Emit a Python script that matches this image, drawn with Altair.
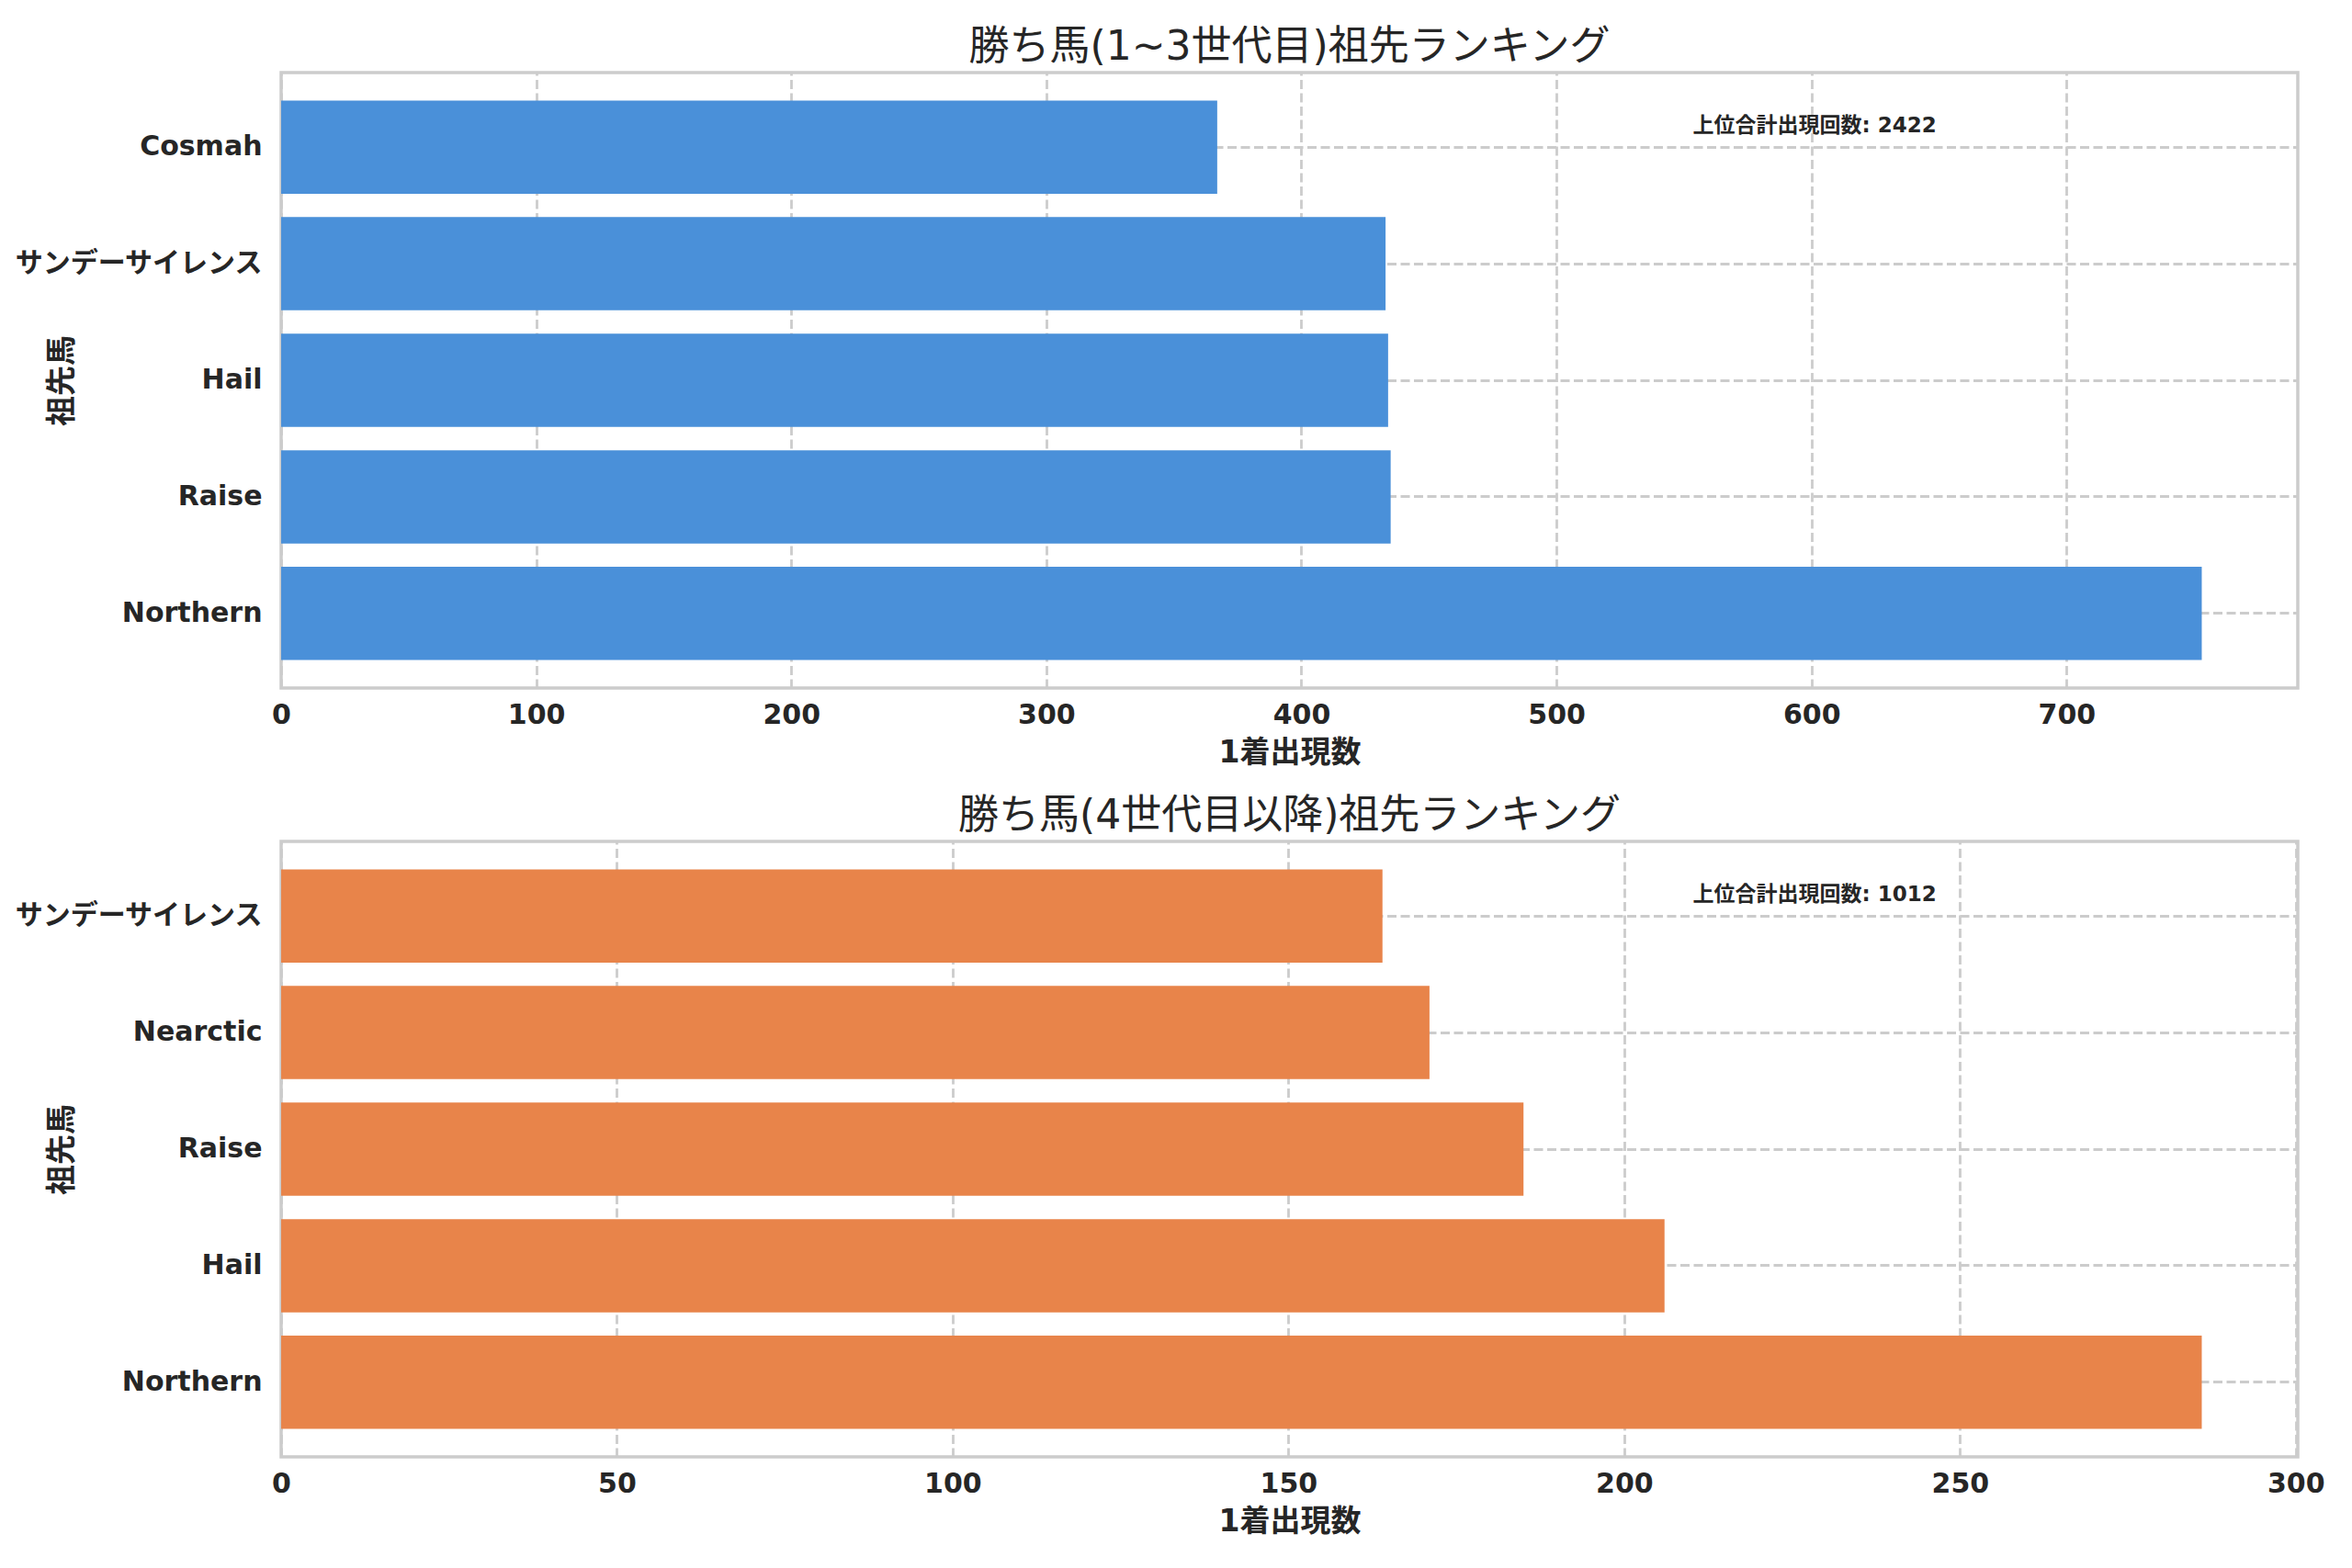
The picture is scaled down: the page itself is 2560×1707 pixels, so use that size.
import altair as alt
import pandas as pd

# ---- data ----
top_names = ["Northern", "Raise", "Hail", "サンデーサイレンス", "Cosmah"]
top_values = [753, 435, 434, 433, 367]
bottom_names = ["Northern", "Hail", "Raise", "Nearctic", "サンデーサイレンス"]
bottom_values = [286, 206, 185, 171, 164]

top_title = "勝ち馬(1~3世代目)祖先ランキング"
bottom_title = "勝ち馬(4世代目以降)祖先ランキング"
x_label = "1着出現数"
y_label = "祖先馬"
note_prefix = "上位合計出現回数"

top_ticks = [0, 100, 200, 300, 400, 500, 600, 700]
bottom_ticks = [0, 50, 100, 150, 200, 250, 300]

FONT = "DejaVu Sans, Noto Sans CJK JP"
TXT = "#262626"
W = 2195
H = 670


def panel(names, values, color, title, ticks):
    df = pd.DataFrame({"name": names, "value": values})
    order = list(reversed(names))  # largest at the bottom
    xmax = max(values) * 1.05
    x = alt.X(
        "value:Q",
        title=x_label,
        scale=alt.Scale(domain=[0, xmax], nice=False, zero=True),
        axis=alt.Axis(values=ticks, format="d", grid=True),
    )
    y = alt.Y(
        "name:N",
        title=y_label,
        sort=order,
        scale=alt.Scale(paddingInner=0.2, paddingOuter=0.24),
        axis=alt.Axis(grid=True, bandPosition=0.5),
    )
    bars = alt.Chart(df).mark_bar(color=color).encode(x=x, y=y)
    note_df = pd.DataFrame({"label": [f"{note_prefix}: {sum(values)}"]})
    note = alt.Chart(note_df).mark_text(
        align="left", baseline="middle", fontSize=23, fontWeight="bold",
        font=FONT, color=TXT,
    ).encode(x=alt.value(0.7 * W), y=alt.value(58), text="label:N")
    return alt.layer(bars, note).properties(
        width=W, height=H,
        title=alt.TitleParams(title, fontSize=44, fontWeight="normal",
                              font=FONT, color=TXT, offset=5),
    )


top = panel(top_names, top_values, "#4A90D9", top_title, top_ticks)
bottom = panel(bottom_names, bottom_values, "#E8844A", bottom_title, bottom_ticks)

chart = alt.vconcat(top, bottom, spacing=27).properties(
    padding={"top": 20, "left": 5, "right": 5, "bottom": 5}
).configure_view(
    stroke="#cccccc", strokeWidth=3.5
).configure_axis(
    labelFont=FONT, titleFont=FONT, labelFontSize=30, titleFontSize=33,
    labelFontWeight="bold", titleFontWeight="bold",
    labelColor=TXT, titleColor=TXT,
    domain=False, ticks=False, labelLimit=0,
    gridColor="#cccccc", gridWidth=2.8, gridDash=[10, 4.5],
).configure_axisX(
    labelPadding=14, titlePadding=10, labelFlush=False,
).configure_axisY(
    labelPadding=21, titlePadding=22,
)

chart.save("out.html", embed_options={"renderer": "svg", "actions": False})
